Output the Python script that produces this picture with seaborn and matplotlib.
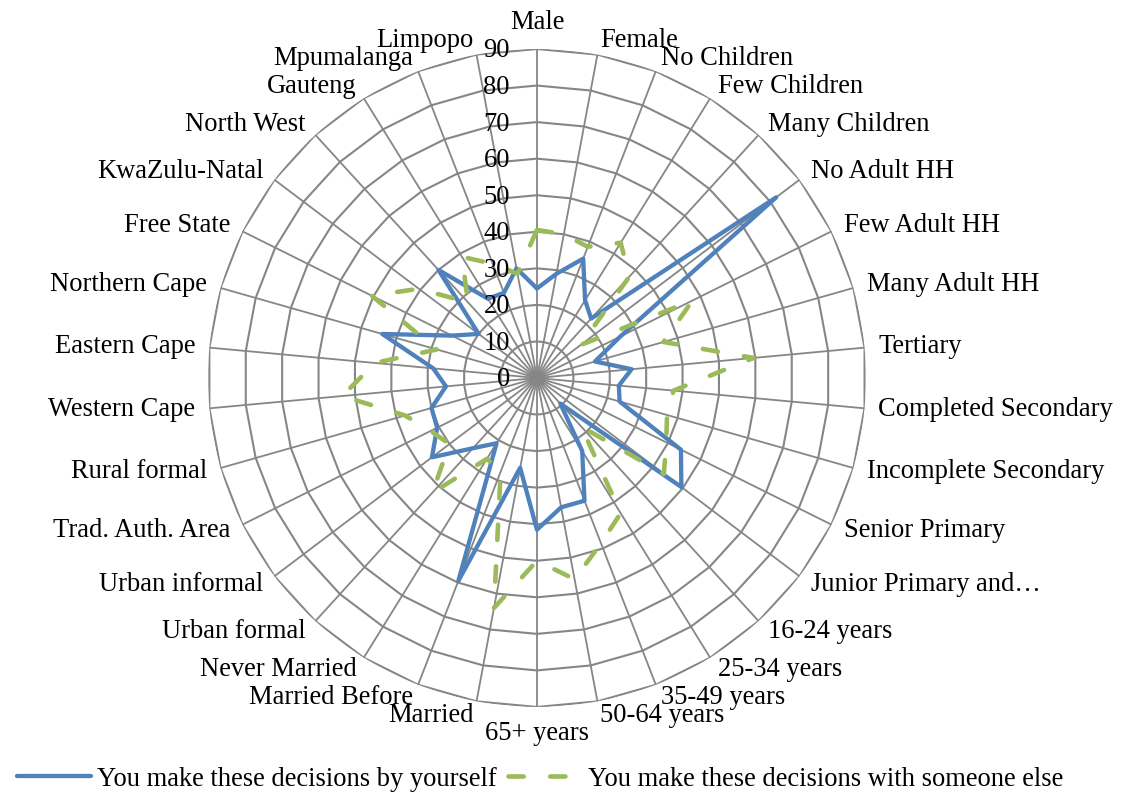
import numpy as np
import matplotlib
matplotlib.use("Agg")
import matplotlib.pyplot as plt
import matplotlib.transforms as mtrans
import seaborn as sns

# Data
categories = ["Male", "Female", "No Children", "Few Children", "Many Children",
              "No Adult HH", "Few Adult HH", "Many Adult HH", "Tertiary",
              "Completed Secondary", "Incomplete Secondary", "Senior Primary",
              "Junior Primary and\u2026", "16-24 years", "25-34 years", "35-49 years",
              "50-64 years", "65+ years", "Married", "Married Before", "Never Married",
              "Urban formal", "Urban informal", "Trad. Auth. Area", "Rural formal",
              "Western Cape", "Eastern Cape", "Northern Cape", "Free State",
              "KwaZulu-Natal", "North West", "Gauteng", "Mpumalanga", "Limpopo"]
by_yourself = [24.5, 29, 35, 25, 22, 82, 25.5, 16.5, 26, 22.5, 23.5, 44, 49.5, 9.5,
               23.5, 36, 36, 41.5, 25, 59.5, 21, 26, 36, 30.5, 30, 25, 28.5, 44, 26,
               20, 40, 25.5, 25, 30.5]
with_someone = [40.5, 40, 38.5, 43.5, 37.5, 15, 47.5, 36, 59.5, 37.5, 37, 39.5, 43.5,
                18, 43.5, 48.5, 56, 50, 64, 27.5, 26, 42.5, 30, 32.5, 37.5, 53.5, 44.5,
                28.5, 50.5, 40.5, 28, 39, 33.5, 29]
series_names = ["You make these decisions by yourself",
                "You make these decisions with someone else"]
r_ticks = [0, 10, 20, 30, 40, 50, 60, 70, 80, 90]

sns.set_theme(style="white")
plt.rcParams['font.family'] = ['Liberation Serif', 'DejaVu Serif']
plt.rcParams['lines.scale_dashes'] = False
plt.rcParams['text.color'] = 'black'

BLUE = "#4F81BD"
GREEN = "#9BBB59"
GRID = "#868686"
FS = 19.1

fig = plt.figure(figsize=(11.21, 7.94), dpi=100)
ax = fig.add_axes([0.1855, 0.1096, 0.587, 0.8287], projection='polar')
ax.set_theta_zero_location('N')
ax.set_theta_direction(-1)
ax.grid(False)
ax.spines['polar'].set_visible(False)
ax.patch.set_alpha(0)

n = len(categories)
theta = np.linspace(0, 2 * np.pi, n, endpoint=False)
ring = np.append(theta, 2 * np.pi)

# polygon gridlines and spokes (Excel style)
for r in r_ticks[1:]:
    ax.plot(ring, [r] * (n + 1), color=GRID, lw=1.5, zorder=1)
for t in theta:
    ax.plot([t, t], [0, r_ticks[-1]], color=GRID, lw=1.3, zorder=1)

# series
sns.lineplot(x=ring, y=by_yourself + by_yourself[:1], sort=False, estimator=None,
             ax=ax, color=BLUE, linewidth=3.1, label=series_names[0], zorder=3)
sns.lineplot(x=ring, y=with_someone + with_someone[:1], sort=False, estimator=None,
             ax=ax, color=GREEN, linewidth=3.3, linestyle=(0, (11, 19)),
             dash_capstyle='round', label=series_names[1], zorder=4)

ax.set_ylim(0, 90)
ax.set_xticks([])
ax.set_yticks([])
ax.set_xlabel('')
ax.set_ylabel('')

# radial value labels
off = mtrans.offset_copy(ax.transData, fig=fig, x=-27, y=-2, units='dots')
for r in r_ticks:
    ax.text(0, r, str(r), transform=off, ha='right', va='center', fontsize=FS,
            color='black', zorder=5)

# category labels
r_lab = 90 + 14 / 3.656
for t, name in zip(theta, categories):
    s = np.sin(t)
    if abs(s) < 0.01:
        ha = 'center'
        va = 'bottom' if np.cos(t) > 0 else 'top'
    else:
        ha = 'left' if s > 0 else 'right'
        va = 'center'
    ax.text(t, r_lab, name, ha=ha, va=va, fontsize=FS, color='black', clip_on=False)

leg = ax.get_legend()
if leg is not None:
    leg.remove()
handles, labels = ax.get_legend_handles_labels()
fig.legend(handles, labels, loc='center', bbox_to_anchor=(540 / 1121, 1 - 779 / 794),
           ncol=2, frameon=False, fontsize=FS, handlelength=2.8, handletextpad=0.2,
           columnspacing=0.45, borderaxespad=0, labelcolor='black')

fig.savefig('out.png', dpi=100)
